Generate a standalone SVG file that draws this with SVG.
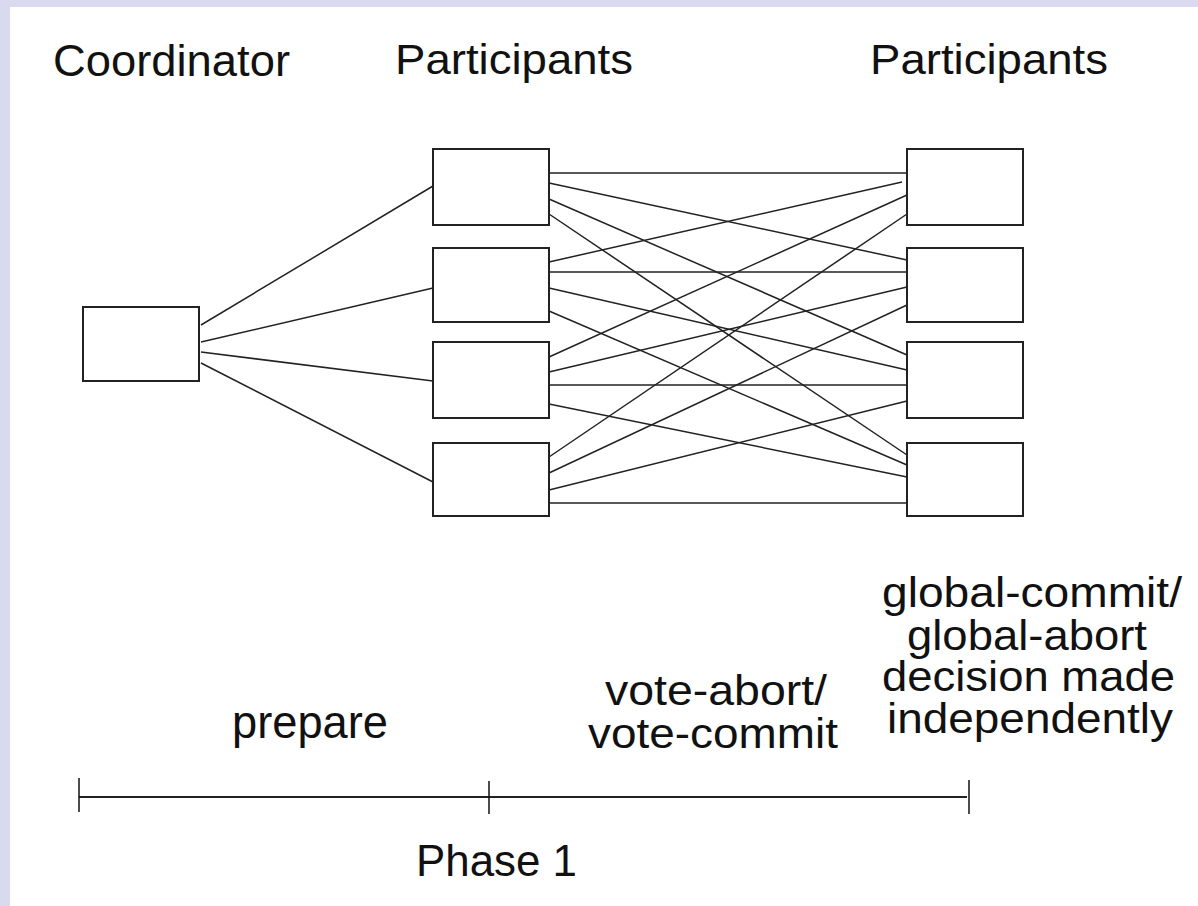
<svg xmlns="http://www.w3.org/2000/svg" width="1198" height="906" viewBox="0 0 1198 906">
<style>
.node{fill:#fff;stroke:#222;stroke-width:2}
.ln{stroke:#222;stroke-width:1.5;fill:none}
.tl{stroke:#222;stroke-width:2;fill:none}
.tk{stroke:#111;stroke-width:1.5}
text{font-family:"Liberation Sans",Arial,sans-serif;fill:#111}
.h{font-size:42px}
</style>
<rect x="0" y="0" width="1198" height="906" fill="#d9daf0"/>
<rect x="10" y="7" width="1188" height="899" fill="#fff"/>
<g id="labels">
<text class="h" x="53" y="76" textLength="237" lengthAdjust="spacingAndGlyphs" style="font-size:45px">Coordinator</text>
<text class="h" x="395" y="74" textLength="238" lengthAdjust="spacingAndGlyphs">Participants</text>
<text class="h" x="870" y="74" textLength="238" lengthAdjust="spacingAndGlyphs">Participants</text>
</g>
<g id="connectors">
<line class="ln" x1="201" y1="325" x2="433" y2="186"/>
<line class="ln" x1="201" y1="342" x2="433" y2="288"/>
<line class="ln" x1="201" y1="352" x2="433" y2="381"/>
<line class="ln" x1="201" y1="363" x2="433" y2="482"/>
<line class="ln" x1="549" y1="173" x2="907" y2="173"/>
<line class="ln" x1="549" y1="183" x2="907" y2="260"/>
<line class="ln" x1="549" y1="199" x2="907" y2="355"/>
<line class="ln" x1="549" y1="214" x2="907" y2="455"/>
<line class="ln" x1="549" y1="262" x2="902" y2="182"/>
<line class="ln" x1="549" y1="272" x2="907" y2="272"/>
<line class="ln" x1="549" y1="288" x2="907" y2="370"/>
<line class="ln" x1="549" y1="311" x2="907" y2="465"/>
<line class="ln" x1="549" y1="357" x2="907" y2="195"/>
<line class="ln" x1="549" y1="372" x2="907" y2="287"/>
<line class="ln" x1="549" y1="385" x2="907" y2="385"/>
<line class="ln" x1="549" y1="404" x2="907" y2="477"/>
<line class="ln" x1="549" y1="457" x2="907" y2="214"/>
<line class="ln" x1="549" y1="473" x2="907" y2="305"/>
<line class="ln" x1="549" y1="490" x2="907" y2="401"/>
<line class="ln" x1="549" y1="503" x2="907" y2="503"/>
</g>
<g id="coordinator"><rect class="node" x="83" y="307" width="116" height="74"/></g>
<g id="p-left-1"><rect class="node" x="433" y="149" width="116" height="76"/></g>
<g id="p-left-2"><rect class="node" x="433" y="248" width="116" height="74"/></g>
<g id="p-left-3"><rect class="node" x="433" y="342" width="116" height="76"/></g>
<g id="p-left-4"><rect class="node" x="433" y="443" width="116" height="73"/></g>
<g id="p-right-1"><rect class="node" x="907" y="149" width="116" height="76"/></g>
<g id="p-right-2"><rect class="node" x="907" y="248" width="116" height="74"/></g>
<g id="p-right-3"><rect class="node" x="907" y="342" width="116" height="76"/></g>
<g id="p-right-4"><rect class="node" x="907" y="443" width="116" height="73"/></g>
<g id="phase-labels">
<text class="h" x="232" y="738" textLength="156" lengthAdjust="spacingAndGlyphs" style="font-size:46px">prepare</text>
<text class="h" x="605" y="705" textLength="222" lengthAdjust="spacingAndGlyphs">vote-abort/</text>
<text class="h" x="588" y="748" textLength="250" lengthAdjust="spacingAndGlyphs">vote-commit</text>
<text class="h" x="882" y="607" textLength="300" lengthAdjust="spacingAndGlyphs">global-commit/</text>
<text class="h" x="907" y="650" textLength="240" lengthAdjust="spacingAndGlyphs">global-abort</text>
<text class="h" x="882" y="691" textLength="293" lengthAdjust="spacingAndGlyphs">decision made</text>
<text class="h" x="887" y="733" textLength="286" lengthAdjust="spacingAndGlyphs">independently</text>
</g>
<g id="timeline">
<line class="tl" x1="79" y1="797" x2="967" y2="797"/>
<line class="tk" x1="79" y1="778" x2="79" y2="812"/>
<line class="tk" x1="489" y1="781" x2="489" y2="814"/>
<line class="tk" x1="969" y1="780" x2="969" y2="814"/>
<text x="416" y="876" textLength="161" lengthAdjust="spacingAndGlyphs" style="font-size:44px">Phase 1</text>
</g>
</svg>
